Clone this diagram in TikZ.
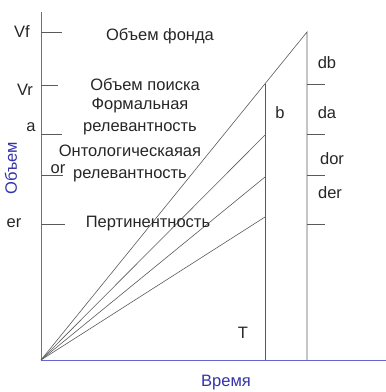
\documentclass[tikz,border=0pt]{standalone}
\usepackage{fontspec}
\setmainfont{Liberation Sans}
\usetikzlibrary{positioning}
\definecolor{axisblue}{RGB}{102,102,204}
\definecolor{textblue}{RGB}{51,51,170}
\definecolor{lngray}{RGB}{90,90,90}

\begin{document}
\begin{tikzpicture}[x=1pt,y=-1pt,font=\fontsize{16.5}{22}\selectfont,
  axis/.style={draw=axisblue,line width=0.9pt},
  ln/.style={draw=lngray,line width=0.6pt},
  lbl/.style={inner sep=0pt,text=black!85,align=center},
  axlbl/.style={inner sep=0pt,text=textblue}]
  \useasboundingbox (0,0) rectangle (386,392);
  % axes
  \coordinate (O) at (41,360);
  \coordinate (ytop) at (41,12);
  \coordinate (xend) at (386,360);
  \draw[axis] (ytop) -- (O) -- (xend);
  % main fan and vertical bars
  \coordinate (Ftop) at (307,32);
  \coordinate (Rtop) at (265,84);
  \coordinate (Ra) at (265,135);
  \coordinate (Ror) at (265,177);
  \coordinate (Rer) at (265,217);
  \coordinate (Rbot) at (265,360);
  \coordinate (Fbot) at (307,360);
  \draw[ln] (O) -- (Ftop) -- (Fbot);
  \draw[ln] (Rtop) -- (Rbot);
  \foreach \p in {Ra,Ror,Rer}
    \draw[ln] (O) -- (\p);
  % ticks on the volume axis
  \foreach \y/\l in {32/62,85/58,134/62,175/63,224/65}
    \draw[ln] (41,\y) -- (\l,\y);
  % ticks on the right bar
  \foreach \y in {84,134,175,224}
    \draw[ln] (307,\y) -- (325,\y);
  % labels, left
  \node[lbl] (vf) at (22,32) {Vf};
  \node[lbl] (vr) at (25,90) {Vr};
  \node[lbl] (la) at (31,127) {a};
  \node[lbl] (lor) at (58,169) {or};
  \node[lbl] (ler) at (14,223) {er};
  \node[lbl] (fond) at (160,36) {Объем фонда};
  \node[lbl] (poisk) at (145,85) {Объем поиска};
  \node[lbl] (form) at (140,116) {Формальная\\релевантность};
  \node[lbl] (onto) at (130,163) {Онтологическаяая\\релевантность};
  \node[lbl] (pert) at (148,224) {Пертинентность};
  % labels, right
  \node[lbl] (lb) at (280,113) {b};
  \node[lbl] (ldb) at (327,63) {db};
  \node[lbl] (lda) at (327,113) {da};
  \node[lbl] (ldor) at (332,159) {dor};
  \node[lbl] (lder) at (330,193) {der};
  \node[lbl] (lT) at (243,333) {T};
  % axis names
  \node[axlbl] (vrem) at (226,383) {Время};
  \node[axlbl,rotate=90] (obem) at (11,168) {Объем};
\end{tikzpicture}
\end{document}
